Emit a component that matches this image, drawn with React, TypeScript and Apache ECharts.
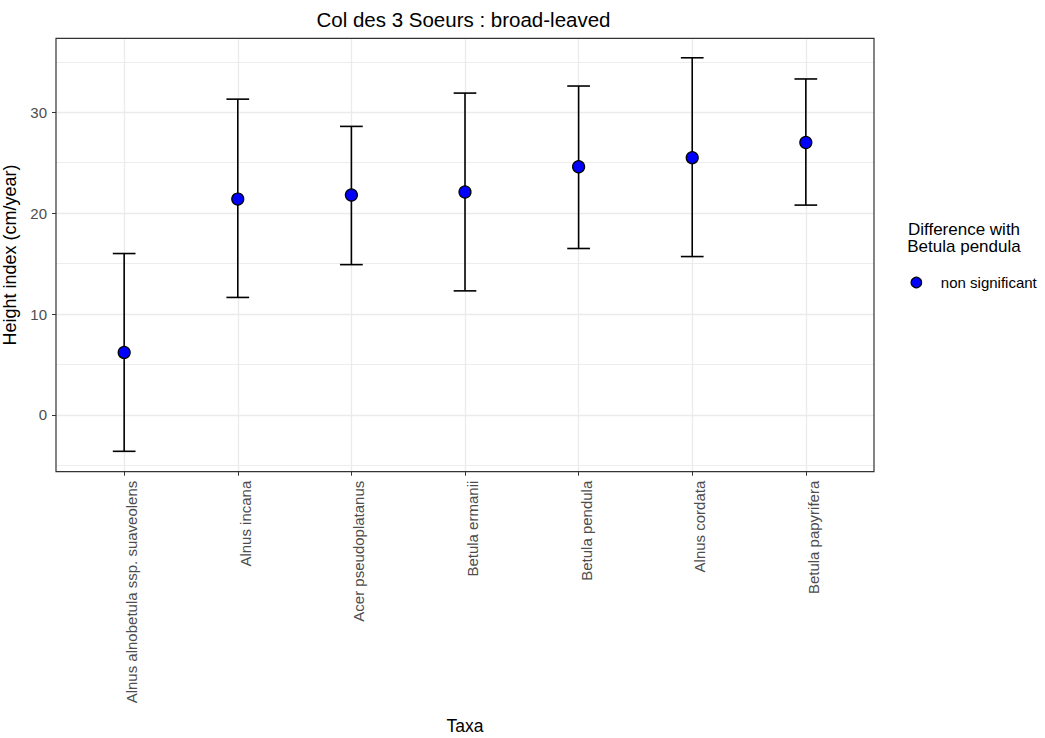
import React, { useEffect, useRef } from "react";
import * as echarts from "echarts";

const categories = [
  "Alnus alnobetula ssp. suaveolens",
  "Alnus incana",
  "Acer pseudoplatanus",
  "Betula ermanii",
  "Betula pendula",
  "Alnus cordata",
  "Betula papyrifera",
];
const means = [6.2, 21.4, 21.8, 22.1, 24.6, 25.5, 27.0];
const lower = [-3.6, 11.65, 14.9, 12.3, 16.5, 15.7, 20.8];
const upper = [16.0, 31.3, 28.6, 31.9, 32.6, 35.4, 33.3];
const yTicks = [0, 10, 20, 30];
const yMin = -5.62;
const yMax = 37.33;
const legendLabel = "non significant";
const legendTitleLines = ["Difference with", "Betula pendula"];

const FONT = "'Liberation Sans', Arial, Helvetica, sans-serif";

export default function App() {
  const ref = useRef<HTMLDivElement>(null);
  useEffect(() => {
    if (!ref.current) return;
    const chart = echarts.init(ref.current, undefined, { renderer: "svg" });
    const panel = { left: 56, top: 38.3, width: 818, height: 433.4 };
    const band = panel.width / 7.2;
    const dataGrid = {
      left: panel.left + band * 0.6,
      top: panel.top,
      width: band * 6,
      height: panel.height,
    };
    const errData = categories.map((_, i) => [i, lower[i], upper[i]]);
    const option: any = {
      animation: false,
      backgroundColor: "#ffffff",
      textStyle: { fontFamily: FONT },
      grid: [
        { ...panel, containLabel: false, outerBoundsMode: "none" },
        { ...dataGrid, containLabel: false, outerBoundsMode: "none" },
      ],
      xAxis: [
        { type: "value", gridIndex: 0, show: false, min: 0, max: 1 },
        {
          type: "category",
          gridIndex: 1,
          data: categories,
          boundaryGap: false,
          position: "bottom",
          axisLine: { show: false, onZero: false },
          axisTick: { show: true, length: 4, lineStyle: { color: "#333333", width: 1 } },
          splitLine: { show: true, lineStyle: { color: "#EBEBEB", width: 1.3 } },
          axisLabel: {
            interval: 0,
            rotate: 90,
            margin: 9,
            verticalAlign: "top",
            fontSize: 15,
            color: "#4D4D4D",
            fontFamily: FONT,
          },
          name: "Taxa",
          nameLocation: "middle",
          nameGap: 245,
          nameTextStyle: { fontSize: 17.5, color: "#000000", fontFamily: FONT },
        },
      ],
      yAxis: [
        {
          type: "value",
          gridIndex: 0,
          min: yMin,
          max: yMax,
          splitNumber: 4,
          axisLine: { show: false, onZero: false },
          axisTick: { show: true, length: 4, lineStyle: { color: "#333333", width: 1 }, customValues: yTicks },
          axisLabel: {
            margin: 9,
            fontSize: 15,
            color: "#4D4D4D",
            fontFamily: FONT,
            customValues: yTicks,
          },
          splitLine: { show: true, lineStyle: { color: "#EBEBEB", width: 1.3 } },
          minorTick: { show: false, splitNumber: 2 },
          minorSplitLine: { show: true, lineStyle: { color: "#EBEBEB", width: 0.9 } },
          name: "Height index (cm/year)",
          nameLocation: "middle",
          nameGap: 28,
          nameTextStyle: { fontSize: 18, color: "#000000", fontFamily: FONT },
        },
        { type: "value", gridIndex: 1, min: yMin, max: yMax, show: false },
      ],
      legend: {
        data: [legendLabel],
        orient: "vertical",
        left: 910.5,
        top: 275,
        padding: 0,
        itemWidth: 39,
        itemHeight: 10.5,
        icon: "circle",
        symbolKeepAspect: true,
        itemStyle: { color: "#0000FF", borderColor: "#000000", borderWidth: 1.2 },
        textStyle: { fontSize: 15, color: "#000000", fontFamily: FONT },
        selectedMode: false,
      },
      graphic: [
        {
          type: "text",
          x: 463.5,
          y: 19,
          style: {
            text: "Col des 3 Soeurs : broad-leaved",
            fontSize: 20.5,
            fontFamily: FONT,
            fill: "#000000",
            textAlign: "center",
            textVerticalAlign: "middle",
          },
        },
        ...legendTitleLines.map((t, i) => ({
          type: "text",
          x: 964,
          y: 229 + i * 17,
          style: {
            text: t,
            fontSize: 17,
            fontFamily: FONT,
            fill: "#000000",
            textAlign: "center",
            textVerticalAlign: "middle",
          },
        })),
        {
          type: "rect",
          z: 100,
          silent: true,
          shape: { x: panel.left, y: panel.top, width: panel.width, height: panel.height },
          style: { fill: "none", stroke: "#333333", lineWidth: 1.2 },
        },
      ],
      series: [
        {
          type: "custom",
          name: "errorbar",
          xAxisIndex: 1,
          yAxisIndex: 1,
          data: errData,
          encode: { x: 0, y: [1, 2] },
          z: 2,
          clip: false,
          silent: true,
          renderItem: (params: any, api: any) => {
            const x = api.value(0);
            const lo = api.coord([x, api.value(1)]);
            const hi = api.coord([x, api.value(2)]);
            const half = api.size([1, 0])[0] * 0.1;
            const st = { stroke: "#000000", lineWidth: 1.6 };
            return {
              type: "group",
              children: [
                { type: "line", shape: { x1: hi[0], y1: hi[1], x2: lo[0], y2: lo[1] }, style: st },
                { type: "line", shape: { x1: hi[0] - half, y1: hi[1], x2: hi[0] + half, y2: hi[1] }, style: st },
                { type: "line", shape: { x1: lo[0] - half, y1: lo[1], x2: lo[0] + half, y2: lo[1] }, style: st },
              ],
            };
          },
        },
        {
          type: "scatter",
          name: legendLabel,
          xAxisIndex: 1,
          yAxisIndex: 1,
          data: means.map((m, i) => [i, m]),
          symbol: "circle",
          symbolSize: 12,
          z: 3,
          itemStyle: { color: "#0000FF", borderColor: "#000000", borderWidth: 1.2, opacity: 1 },
        },
      ],
    };
    chart.setOption(option);
    return () => chart.dispose();
  }, []);
  return (
    <div
      ref={ref}
      style={{ position: "absolute", left: 0, top: 0, width: 1045, height: 738 }}
    />
  );
}
